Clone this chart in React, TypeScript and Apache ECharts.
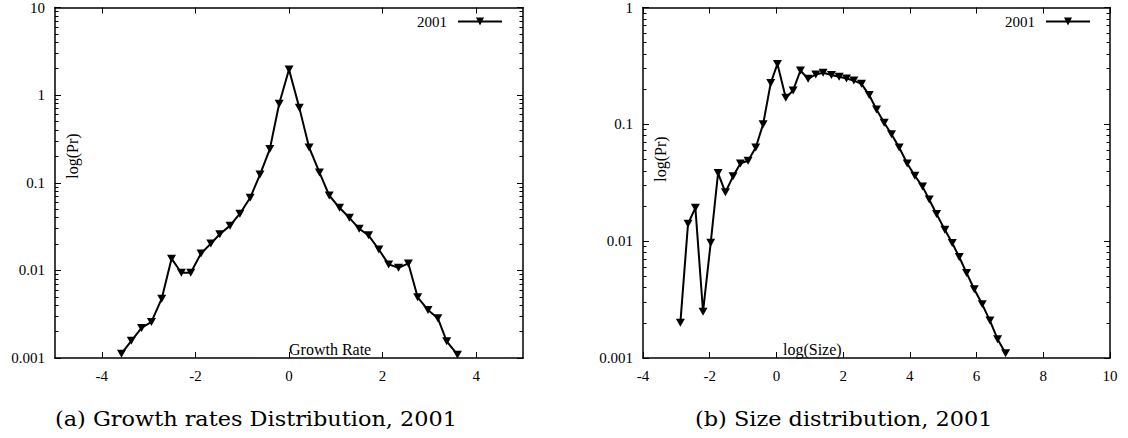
import React, { useEffect, useRef } from "react";
import * as echarts from "echarts";

// ---- Data: (a) Growth rates distribution, 2001 ----
const growthX = [-3.58, -3.37, -3.15, -2.94, -2.72, -2.51, -2.3, -2.1, -1.88, -1.67, -1.48, -1.26, -1.05, -0.83, -0.62, -0.41, -0.21, 0, 0.22, 0.43, 0.65, 0.86, 1.08, 1.29, 1.5, 1.7, 1.92, 2.13, 2.34, 2.55, 2.75, 2.97, 3.18, 3.37, 3.6];
const growthPr = [0.00112, 0.00157, 0.0022, 0.00258, 0.00475, 0.0136, 0.0094, 0.0094, 0.0156, 0.0202, 0.0258, 0.0324, 0.0443, 0.0673, 0.124, 0.242, 0.798, 1.96, 0.72, 0.253, 0.131, 0.0715, 0.0518, 0.0398, 0.0299, 0.0251, 0.0173, 0.0117, 0.0107, 0.012, 0.00493, 0.00354, 0.00285, 0.00155, 0.00109];

// ---- Data: (b) Size distribution, 2001 ----
const sizeX = [-2.88, -2.65, -2.43, -2.2, -1.97, -1.75, -1.53, -1.3, -1.08, -0.85, -0.62, -0.4, -0.17, 0.03, 0.28, 0.5, 0.72, 0.95, 1.18, 1.4, 1.65, 1.88, 2.1, 2.32, 2.55, 2.78, 3.0, 3.23, 3.45, 3.68, 3.92, 4.15, 4.38, 4.58, 4.8, 5.05, 5.27, 5.48, 5.7, 5.93, 6.17, 6.4, 6.63, 6.87];
const sizePr = [0.002, 0.0141, 0.0193, 0.00249, 0.0097, 0.0383, 0.0262, 0.0359, 0.0463, 0.0488, 0.0633, 0.1, 0.226, 0.329, 0.169, 0.195, 0.289, 0.245, 0.267, 0.276, 0.264, 0.255, 0.247, 0.237, 0.222, 0.178, 0.134, 0.103, 0.0822, 0.0633, 0.0463, 0.0363, 0.0293, 0.0227, 0.0171, 0.0125, 0.00964, 0.00732, 0.00535, 0.00388, 0.00288, 0.00209, 0.00145, 0.0011];

// ---- Tick labels ----
const growthXTicks = [-4, -2, 0, 2, 4];
const sizeXTicks = [-4, -2, 0, 2, 4, 6, 8, 10];
const seriesName = "2001";
const captionA = "(a) Growth rates Distribution, 2001";
const captionB = "(b) Size distribution, 2001";

const minorLog = (lo: number, hi: number) => {
  const out: number[] = [];
  for (let e = lo; e < hi; e++) {
    for (let m = 2; m <= 9; m++) out.push(Number((m * Math.pow(10, e)).toPrecision(3)));
  }
  return out;
};

const FONT = "Liberation Serif, Times New Roman, serif";
const CAPFONT = "DejaVu Serif, serif";
const BLACK = "#000";
const AXW = 1.5;

function xAxes(grid: number, min: number, max: number, ticks: number[]) {
  return [
    {
      type: "value",
      gridIndex: grid,
      position: "bottom",
      min,
      max,
      axisLine: { show: true, onZero: false, lineStyle: { color: BLACK, width: AXW } },
      axisTick: { show: true, inside: true, length: 6, customValues: ticks, lineStyle: { color: BLACK, width: 1 } },
      axisLabel: { show: true, customValues: ticks, color: BLACK, fontFamily: FONT, fontSize: 15, margin: 10 },
      splitLine: { show: false },
    },
    {
      type: "value",
      gridIndex: grid,
      position: "top",
      min,
      max,
      axisLine: { show: true, onZero: false, lineStyle: { color: BLACK, width: AXW } },
      axisTick: { show: true, inside: true, length: 6, customValues: ticks, lineStyle: { color: BLACK, width: 1 } },
      axisLabel: { show: false },
      splitLine: { show: false },
    },
  ];
}

function yAxes(grid: number, min: number, max: number, loExp: number, hiExp: number) {
  const minor = minorLog(loExp, hiExp);
  const base = { type: "log", logBase: 10, gridIndex: grid, min, max, splitLine: { show: false } };
  return [
    {
      ...base,
      position: "left",
      axisLine: { show: true, onZero: false, lineStyle: { color: BLACK, width: AXW } },
      axisTick: { show: true, inside: true, length: 6, lineStyle: { color: BLACK, width: 1 } },
      axisLabel: { show: true, color: BLACK, fontFamily: FONT, fontSize: 15, margin: 10, formatter: (v: number) => String(Number(v.toPrecision(3))) },
    },
    {
      ...base,
      position: "left",
      axisLine: { show: false, onZero: false },
      axisTick: { show: true, inside: true, length: 3.5, customValues: minor, lineStyle: { color: BLACK, width: 1 } },
      axisLabel: { show: false },
    },
    {
      ...base,
      position: "right",
      axisLine: { show: true, onZero: false, lineStyle: { color: BLACK, width: AXW } },
      axisTick: { show: true, inside: true, length: 6, lineStyle: { color: BLACK, width: 1 } },
      axisLabel: { show: false },
    },
    {
      ...base,
      position: "right",
      axisLine: { show: false, onZero: false },
      axisTick: { show: true, inside: true, length: 3.5, customValues: minor, lineStyle: { color: BLACK, width: 1 } },
      axisLabel: { show: false },
    },
  ];
}

function lineSeries(xIdx: number, yIdx: number, xs: number[], ys: number[]) {
  return {
    type: "line",
    name: seriesName,
    xAxisIndex: xIdx,
    yAxisIndex: yIdx,
    data: xs.map((x, i) => [x, ys[i]]),
    symbol: "triangle",
    symbolRotate: 180,
    symbolSize: [9, 8],
    showAllSymbol: true,
    lineStyle: { color: BLACK, width: 2 },
    itemStyle: { color: BLACK },
    clip: false,
  };
}

function legend(right: number) {
  return {
    show: true,
    data: [seriesName],
    right,
    top: 9,
    align: "right",
    itemWidth: 44,
    itemHeight: 10,
    selectedMode: false,
    textStyle: { color: BLACK, fontFamily: FONT, fontSize: 15, padding: [0, 6, 0, 0] },
  };
}

export default function App() {
  const ref = useRef<HTMLDivElement>(null);
  useEffect(() => {
    if (!ref.current) return;
    const chart = echarts.init(ref.current, undefined, { renderer: "svg" });
    const txt = (text: string, size: number, family: string, extra: any = {}) => ({
      text,
      fill: BLACK,
      fontSize: size,
      fontFamily: family,
      verticalAlign: "middle",
      ...extra,
    });
    const option: any = {
      animation: false,
      backgroundColor: "#fff",
      grid: [
        { left: 55, top: 6, width: 468, height: 352, containLabel: false },
        { left: 643, top: 6, width: 467, height: 352, containLabel: false },
      ],
      xAxis: [...xAxes(0, -5, 5, growthXTicks), ...xAxes(1, -4, 10, sizeXTicks)],
      yAxis: [...yAxes(0, 0.001, 10, -3, 1), ...yAxes(1, 0.001, 1, -3, 0)],
      legend: [legend(1128 - 503 - 5), legend(1128 - 1091 - 5)],
      series: [lineSeries(0, 0, growthX, growthPr), lineSeries(2, 4, sizeX, sizePr)],
      graphic: [
        { type: "text", x: 72, y: 156, rotation: Math.PI / 2, style: txt("log(Pr)", 16, FONT, { align: "center" }) },
        { type: "text", x: 660, y: 159, rotation: Math.PI / 2, style: txt("log(Pr)", 16, FONT, { align: "center" }) },
        { type: "text", x: 289, y: 349, style: txt("Growth Rate", 16, FONT, { align: "left" }) },
        { type: "text", x: 783, y: 349, style: txt("log(Size)", 16, FONT, { align: "left" }) },
        { type: "text", x: 55, y: 419, scaleX: 1.12, style: txt(captionA, 20, CAPFONT, { align: "left" }) },
        { type: "text", x: 695, y: 419, scaleX: 1.12, style: txt(captionB, 20, CAPFONT, { align: "left" }) },
      ],
    };
    chart.setOption(option);
    return () => chart.dispose();
  }, []);
  return <div ref={ref} style={{ position: "absolute", left: 0, top: 0, width: 1128, height: 438, background: "#fff" }} />;
}
